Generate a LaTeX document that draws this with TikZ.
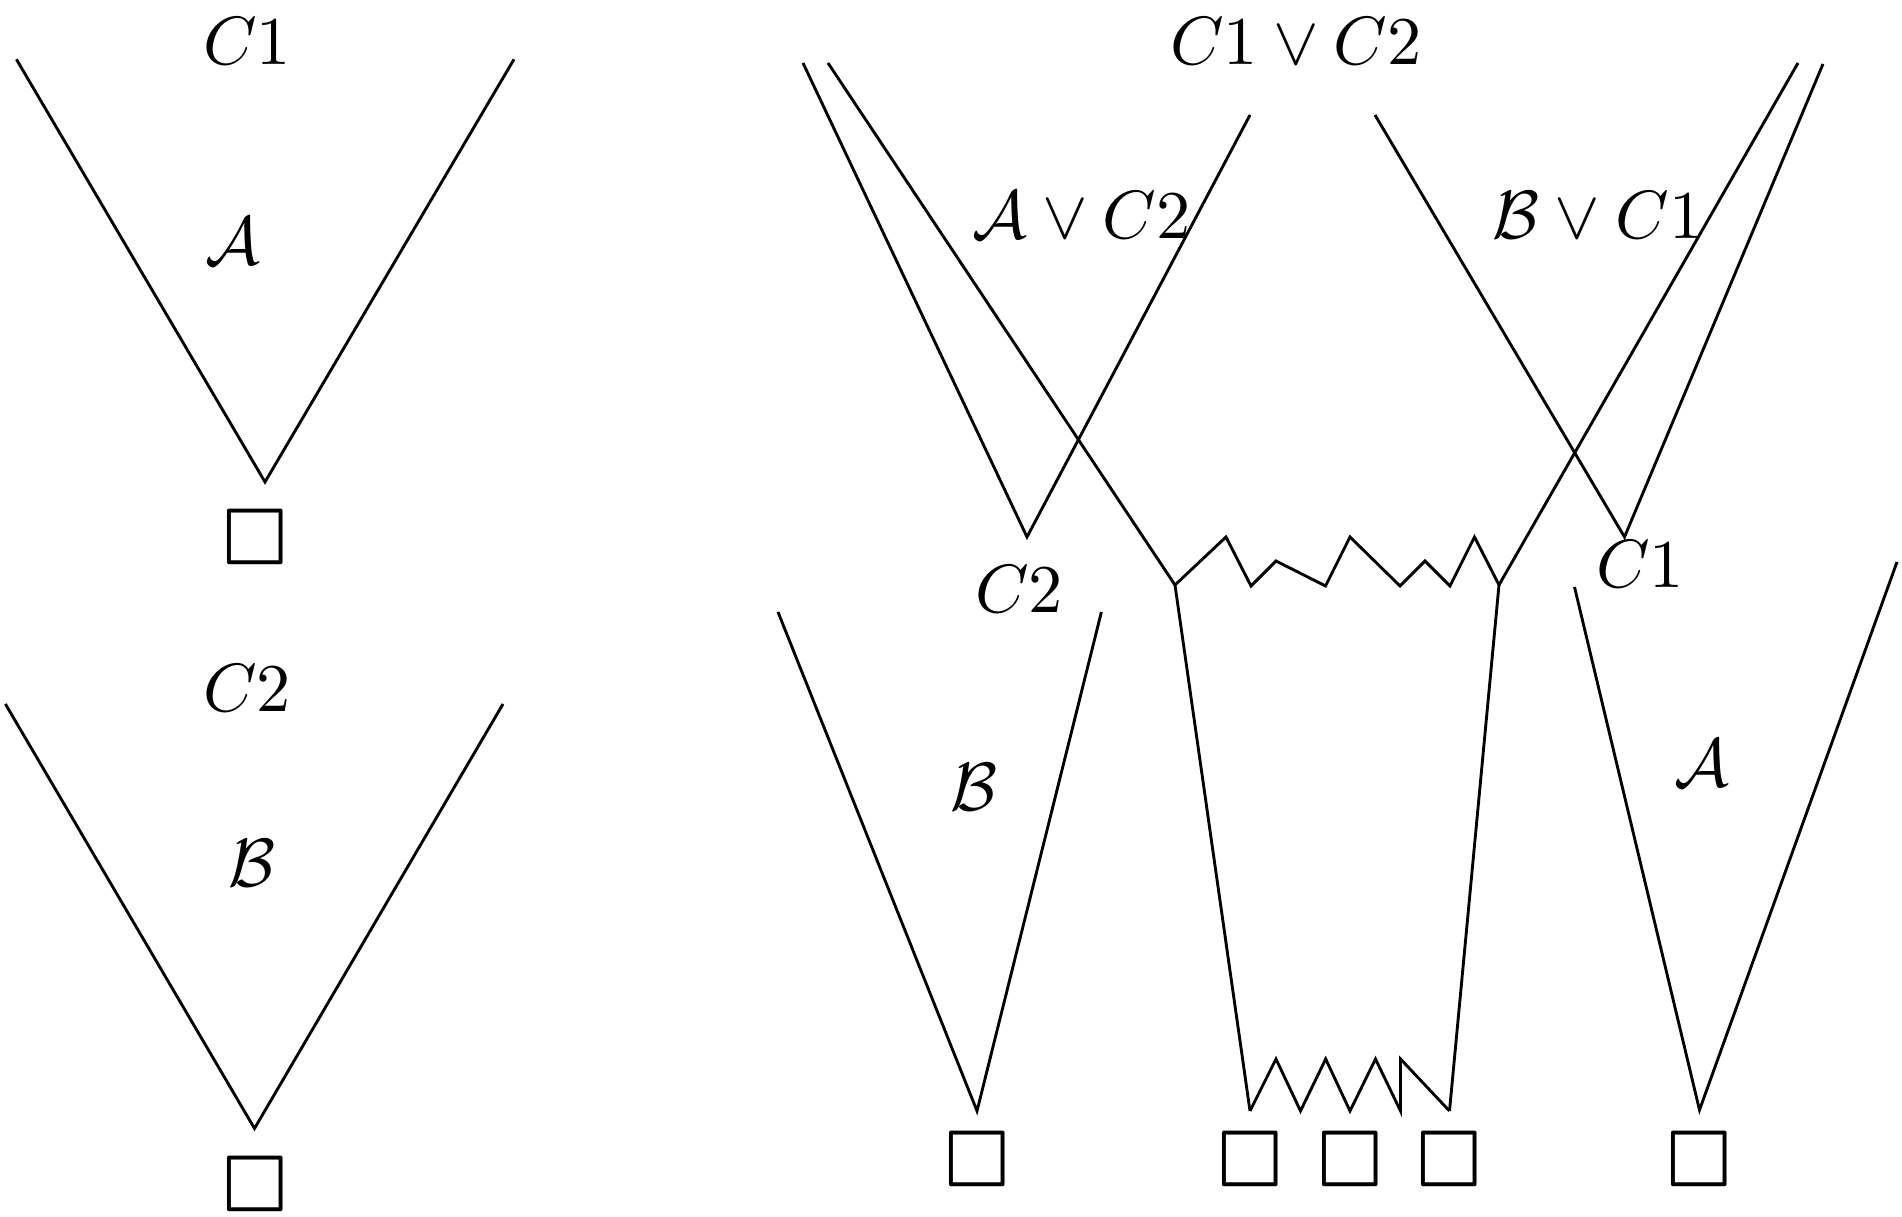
\documentclass[tikz,border=0pt]{standalone}
\usepackage{latexsym}
\begin{document}
\begin{tikzpicture}[x=0.14641pt,y=-0.14641pt,line width=0.42pt,
  lbl/.style={inner sep=0pt,font=\fontsize{9.6}{11.5}\selectfont},
  emptybox/.style={inner sep=0pt,font=\fontsize{13.6}{16}\selectfont}]
\useasboundingbox (0,0) rectangle (1902,1217);
% ---- left column, upper tree
\coordinate (v1l) at (16.4,59.3);
\coordinate (v1b) at (265,482);
\coordinate (v1r) at (514,59.3);
\draw (v1l) -- (v1b) -- (v1r);
\node[lbl] (c1a) at (247,41) {$C1$};
\node[lbl] (calA1) at (233,241) {$\mathcal{A}$};
\node[emptybox] (e1) at (255,548.5) {$\Box$};
% ---- left column, lower tree
\coordinate (v2l) at (5.4,704);
\coordinate (v2b) at (254.5,1128.5);
\coordinate (v2r) at (503,704);
\draw (v2l) -- (v2b) -- (v2r);
\node[lbl] (c2a) at (247,688.5) {$C2$};
\node[lbl] (calB1) at (252,863) {$\mathcal{B}$};
\node[emptybox] (e2) at (255,1195.5) {$\Box$};
% ---- right part
\coordinate (al) at (803,63);
\coordinate (ab) at (1027,537);
\coordinate (ar) at (1250,115);
\draw (al) -- (ab) -- (ar);
\coordinate (bt) at (828,63);
\coordinate (j1) at (1175,585);
\draw (bt) -- (j1);
\coordinate (cl) at (1375,115);
\coordinate (cb) at (1624.5,537);
\coordinate (cr) at (1823,64);
\draw (cl) -- (cb) -- (cr);
\coordinate (dt) at (1798,63);
\coordinate (j2) at (1499,585);
\draw (dt) -- (j2);
% top zigzag
\coordinate (z1) at (1226,537);
\coordinate (z2) at (1251,586);
\coordinate (z3) at (1276,561);
\coordinate (z4) at (1325.5,586);
\coordinate (z5) at (1350,537);
\coordinate (z6) at (1400,586);
\coordinate (z7) at (1425,561);
\coordinate (z8) at (1450,586);
\coordinate (z9) at (1474.5,537);
\draw (j1) -- (z1) -- (z2) -- (z3) -- (z4) -- (z5) -- (z6) -- (z7) -- (z8) -- (z9) -- (j2);
% trunk
\coordinate (tl) at (1250,1111);
\coordinate (tr) at (1449.5,1111);
\draw (j1) -- (tl);
\draw (j2) -- (tr);
% bottom zigzag
\coordinate (w1) at (1276,1059);
\coordinate (w2) at (1300.5,1111);
\coordinate (w3) at (1325.7,1059);
\coordinate (w4) at (1350,1111);
\coordinate (w5) at (1375.5,1059);
\coordinate (w6) at (1400.5,1111);
\coordinate (w7) at (1400.5,1059);
\draw (tl) -- (w1) -- (w2) -- (w3) -- (w4) -- (w5) -- (w6) -- (w7) -- (tr);
% B tree
\coordinate (bl) at (778,612);
\coordinate (bb) at (977,1111);
\coordinate (br) at (1101.4,612);
\draw (bl) -- (bb) -- (br);
% A tree
\coordinate (xl) at (1574.5,587);
\coordinate (xb) at (1699.5,1110);
\coordinate (xr) at (1897,562);
\draw (xl) -- (xb) -- (xr);
% labels
\node[lbl] (top) at (1296,41.5) {$C1\vee C2$};
\node[lbl] (avc2) at (1081.5,215.5) {$\mathcal{A}\vee C2$};
\node[lbl] (bvc1) at (1598,215) {$\mathcal{B}\vee C1$};
\node[lbl] (c2b) at (1019,589) {$C2$};
\node[lbl] (c1b) at (1640,564) {$C1$};
\node[lbl] (calB2) at (974,787) {$\mathcal{B}$};
\node[lbl] (calA2) at (1702,763) {$\mathcal{A}$};
% empty clauses
\node[emptybox] (e3) at (977,1171) {$\Box$};
\node[emptybox] (e4) at (1250.5,1171) {$\Box$};
\node[emptybox] (e5) at (1350,1171) {$\Box$};
\node[emptybox] (e6) at (1449.5,1171) {$\Box$};
\node[emptybox] (e7) at (1699.5,1171) {$\Box$};
\end{tikzpicture}
\end{document}
